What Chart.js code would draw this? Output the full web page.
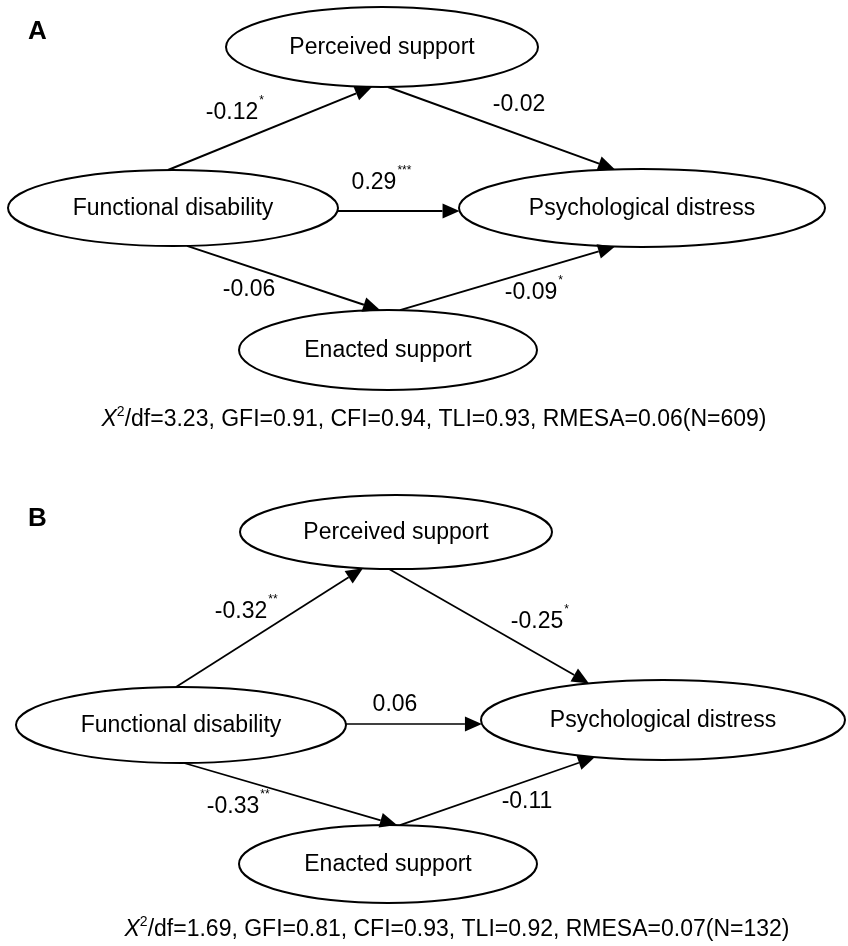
<!DOCTYPE html>
<html><head><meta charset="utf-8">
<script src="https://cdn.jsdelivr.net/npm/chart.js@4/dist/chart.umd.min.js"></script>
<style>html,body{margin:0;padding:0;background:#fff}#wrap{width:848px;height:946px;position:relative}</style>
</head><body><div id="wrap"><canvas id="c"></canvas></div>
<script>
// ---- data ----
const panelNames = ["A", "B"];
const nodeLabels = ["Perceived support", "Functional disability", "Psychological distress", "Enacted support"];
const pathFrom = [1, 0, 1, 1, 3];
const pathTo   = [0, 2, 2, 3, 2];
const coefA  = ["-0.12", "-0.02", "0.29", "-0.06", "-0.09"];
const starsA = ["*", "", "***", "", "*"];
const coefB  = ["-0.32", "-0.25", "0.06", "-0.33", "-0.11"];
const starsB = ["**", "*", "", "**", ""];
const fitNames = ["GFI", "CFI", "TLI", "RMESA"];
const chiA = "3.23", fitValsA = ["0.91", "0.94", "0.93", "0.06"], nA = "609";
const chiB = "1.69", fitValsB = ["0.81", "0.93", "0.92", "0.07"], nB = "132";

// ---- layout (in axis units) ----
const nodePosA = [[382, 47, 156, 40], [173, 208, 165, 38], [642, 208, 183, 39], [388, 350, 149, 40]];
const nodePosB = [[396, 532, 156, 37], [181, 725, 165, 38], [663, 720, 182, 40], [388, 864, 149, 39]];
// anchor: [fromSide, fromOffset, toSide, toOffset]
const anchorsA = [["t", -5, "b", -10], ["b", 6, "t", -27], ["r", 3, "l", 3], ["b", 14, "t", -8], ["t", 12, "b", -27]];
const anchorsB = [["t", -5, "b", -33], ["b", -7, "t", -74], ["r", -1, "l", 4], ["b", 3, "t", 9], ["t", 12, "b", -68]];
const labelPosA = [[232, 113], [519, 105], [374, 183], [249, 290], [531, 293]];
const labelPosB = [[241, 612], [537, 622], [395, 705], [233, 807], [527, 802]];
const panelLetterPos = [[28, 32], [28, 519]];
const fitPos = [[434, 420], [457, 930]];

const FONT = '"Liberation Sans", Arial, sans-serif';
const FS = 23;

function anchorPoint(n, side, off) {
  const [cx, cy, rx, ry] = n;
  if (side === "t" || side === "b") {
    const k = Math.sqrt(Math.max(0, 1 - (off / rx) ** 2));
    return [cx + off, side === "t" ? cy - ry * k : cy + ry * k];
  }
  const k = Math.sqrt(Math.max(0, 1 - (off / ry) ** 2));
  return [side === "l" ? cx - rx * k : cx + rx * k, cy + off];
}

const panels = [
  {pos: nodePosA, anchors: anchorsA, coef: coefA, stars: starsA, lab: labelPosA, chi: chiA, vals: fitValsA, n: nA, lw: 2},
  {pos: nodePosB, anchors: anchorsB, coef: coefB, stars: starsB, lab: labelPosB, chi: chiB, vals: fitValsB, n: nB, lw: 1.7}
];

const pathPlugin = {
  id: "pathDiagram",
  afterDatasetsDraw(chart) {
    const ctx = chart.ctx, xs = chart.scales.x, ys = chart.scales.y;
    const px = v => xs.getPixelForValue(v), py = v => ys.getPixelForValue(v);
    ctx.save();
    ctx.fillStyle = "#000"; ctx.strokeStyle = "#000";
    panels.forEach((p, pi) => {
      ctx.font = "bold 26px " + FONT;
      ctx.textAlign = "left"; ctx.textBaseline = "middle";
      ctx.fillText(panelNames[pi], px(panelLetterPos[pi][0]), py(panelLetterPos[pi][1]));
      p.pos.forEach((n, i) => {
        const cx = px(n[0]), cy = py(n[1]);
        const rx = Math.abs(px(n[0] + n[2]) - cx), ry = Math.abs(py(n[1] + n[3]) - cy);
        ctx.beginPath(); ctx.ellipse(cx, cy, rx, ry, 0, 0, Math.PI * 2);
        ctx.fillStyle = "#fff"; ctx.fill();
        ctx.lineWidth = 2; ctx.strokeStyle = "#000"; ctx.stroke();
        ctx.fillStyle = "#000";
        ctx.font = FS + "px " + FONT; ctx.textAlign = "center"; ctx.textBaseline = "middle";
        ctx.fillText(nodeLabels[i], cx, cy + 1);
      });
      pathFrom.forEach((f, k) => {
        const a = p.anchors[k];
        const s = anchorPoint(p.pos[f], a[0], a[1]);
        const e = anchorPoint(p.pos[pathTo[k]], a[2], a[3]);
        const x1 = px(s[0]), y1 = py(s[1]), x2 = px(e[0]), y2 = py(e[1]);
        const ang = Math.atan2(y2 - y1, x2 - x1), L = 17, W = 7.5;
        const bx = x2 - L * Math.cos(ang), by = y2 - L * Math.sin(ang);
        ctx.lineWidth = p.lw;
        ctx.beginPath(); ctx.moveTo(x1, y1); ctx.lineTo(bx, by); ctx.stroke();
        ctx.beginPath(); ctx.moveTo(x2, y2);
        ctx.lineTo(bx + W * Math.sin(ang), by - W * Math.cos(ang));
        ctx.lineTo(bx - W * Math.sin(ang), by + W * Math.cos(ang));
        ctx.closePath(); ctx.fill();
        ctx.font = FS + "px " + FONT; ctx.textAlign = "left"; ctx.textBaseline = "middle";
        const w = ctx.measureText(p.coef[k]).width;
        const lx = px(p.lab[k][0]) - w / 2, ly = py(p.lab[k][1]);
        ctx.fillText(p.coef[k], lx, ly);
        if (p.stars[k]) { ctx.font = "12px " + FONT; ctx.fillText(p.stars[k], lx + w + 1, ly - 12); }
      });
      const rest = "/df=" + p.chi + ", " + fitNames.map((nm, i) => nm + "=" + p.vals[i]).join(", ") + "(N=" + p.n + ")";
      ctx.textBaseline = "middle"; ctx.textAlign = "left";
      ctx.font = "italic " + FS + "px " + FONT; const wX = ctx.measureText("X").width;
      ctx.font = "14px " + FONT; const w2 = ctx.measureText("2").width;
      ctx.font = FS + "px " + FONT; const wR = ctx.measureText(rest).width;
      const tot = wX + w2 + wR;
      let x0 = px(fitPos[pi][0]) - tot / 2; const y0 = py(fitPos[pi][1]);
      ctx.font = "italic " + FS + "px " + FONT; ctx.fillText("X", x0, y0); x0 += wX;
      ctx.font = "14px " + FONT; ctx.fillText("2", x0, y0 - 8); x0 += w2;
      ctx.font = FS + "px " + FONT; ctx.fillText(rest, x0, y0);
    });
    ctx.restore();
  }
};

new Chart(document.getElementById("c"), {
  type: "scatter",
  data: {
    datasets: [
      {label: "Panel A nodes", data: nodePosA.map((n, i) => ({x: n[0], y: n[1], label: nodeLabels[i]})), pointRadius: 0},
      {label: "Panel B nodes", data: nodePosB.map((n, i) => ({x: n[0], y: n[1], label: nodeLabels[i]})), pointRadius: 0}
    ]
  },
  options: {
    responsive: true, maintainAspectRatio: false, animation: false,
    layout: {padding: 0},
    plugins: {legend: {display: false}, tooltip: {enabled: false}},
    events: [],
    scales: {
      x: {type: "linear", min: 0, max: 848, display: false},
      y: {type: "linear", min: 0, max: 946, reverse: true, display: false}
    }
  },
  plugins: [pathPlugin]
});
</script></body></html>
